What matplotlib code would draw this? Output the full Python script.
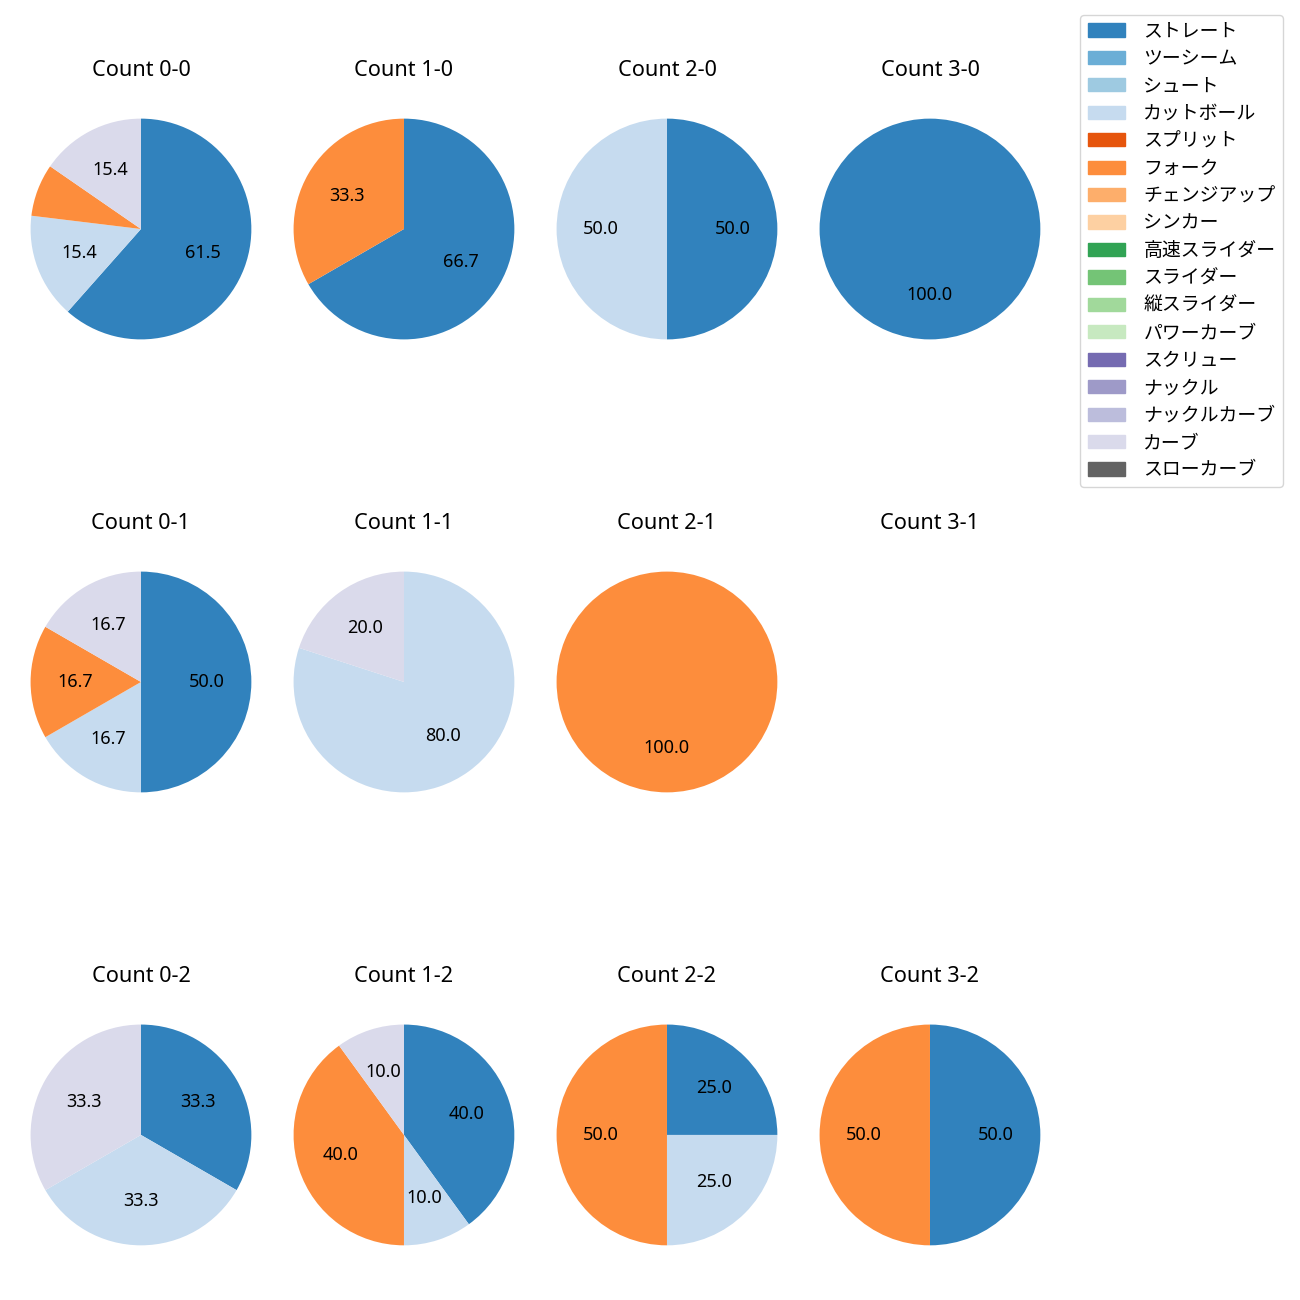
import numpy as np
import matplotlib
matplotlib.use("Agg")
import matplotlib.pyplot as plt
from matplotlib.patches import Patch

plt.rcParams['font.family'] = ['Noto Sans', 'Noto Sans CJK JP', 'DejaVu Sans']

pitch_types = ['ストレート', 'ツーシーム', 'シュート', 'カットボール', 'スプリット', 'フォーク',
               'チェンジアップ', 'シンカー', '高速スライダー', 'スライダー', '縦スライダー',
               'パワーカーブ', 'スクリュー', 'ナックル', 'ナックルカーブ', 'カーブ', 'スローカーブ']
colors = [plt.cm.tab20c(i) for i in range(len(pitch_types))]

# pitch counts per ball-strike count
counts = {
    '0-0': {'ストレート': 8, 'カットボール': 2, 'フォーク': 1, 'カーブ': 2},
    '1-0': {'ストレート': 2, 'フォーク': 1},
    '2-0': {'ストレート': 1, 'カットボール': 1},
    '3-0': {'ストレート': 1},
    '0-1': {'ストレート': 3, 'カットボール': 1, 'フォーク': 1, 'カーブ': 1},
    '1-1': {'カットボール': 4, 'カーブ': 1},
    '2-1': {'フォーク': 1},
    '3-1': {},
    '0-2': {'ストレート': 1, 'カットボール': 1, 'カーブ': 1},
    '1-2': {'ストレート': 4, 'カットボール': 1, 'フォーク': 4, 'カーブ': 1},
    '2-2': {'ストレート': 1, 'カットボール': 1, 'フォーク': 2},
    '3-2': {'ストレート': 1, 'フォーク': 1},
}

fig, axes = plt.subplots(3, 4, figsize=(13, 13))
fig.subplots_adjust(left=0.0023, right=0.8215, top=0.93, bottom=0.0208,
                    hspace=0.641, wspace=-0.047)

for strikes in range(3):
    for balls in range(4):
        ax = axes[strikes, balls]
        key = f'{balls}-{strikes}'
        data = counts[key]
        ax.set_title(f'Count {key}', fontsize=15.6, pad=10.5)
        if not data:
            ax.set_xlim(-1.25, 1.25)
            ax.set_ylim(-1.25, 1.25)
            ax.set_aspect('equal')
            ax.axis('off')
            continue
        labels = [p for p in pitch_types if p in data]
        vals = [data[p] for p in labels]
        cols = [colors[pitch_types.index(p)] for p in labels]
        ax.pie(vals, colors=cols, startangle=90, counterclock=False,
               autopct=lambda p: f'{p:.1f}' if p >= 10 else '',
               textprops={'fontsize': 13})
        ax.set_aspect('equal')

handles = [Patch(color=c, label=l) for c, l in zip(colors, pitch_types)]
fig.legend(handles=handles, loc='upper right', bbox_to_anchor=(0.987, 0.9885),
           borderaxespad=0, fontsize=13.6, handlelength=2.0, handletextpad=0.95,
           labelspacing=0.5)

fig.savefig('out.png', dpi=100)
